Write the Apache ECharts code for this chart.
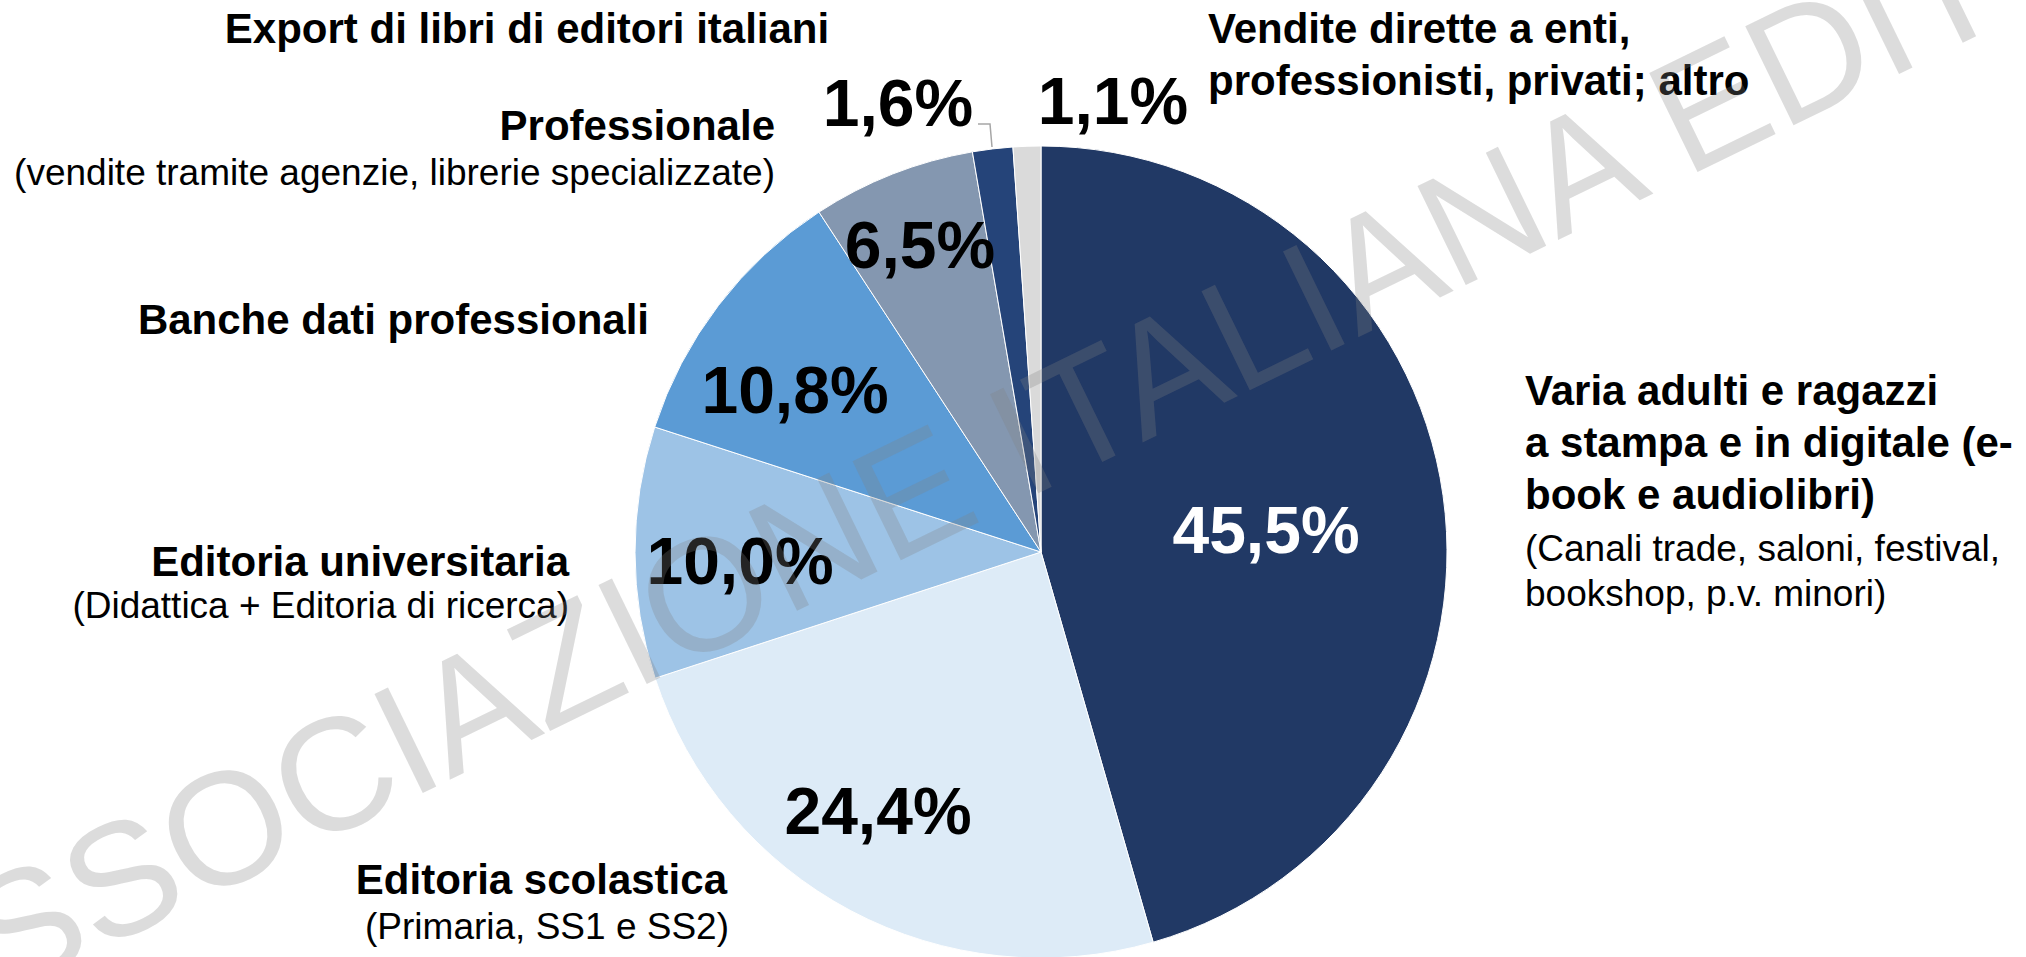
<!DOCTYPE html>
<html>
<head>
<meta charset="utf-8">
<script src="https://cdn.jsdelivr.net/npm/echarts@6/dist/echarts.min.js"></script>
<style>
  html, body { margin: 0; padding: 0; background: #fff; }
  #main { width: 2026px; height: 957px; }
</style>
</head>
<body>
<div id="main"></div>
<script>
// quote per canale (%), in senso orario dalle ore 12
var categorie = [
    'Varia adulti e ragazzi',
    'Editoria scolastica',
    'Editoria universitaria',
    'Banche dati professionali',
    'Professionale',
    'Export di libri di editori italiani',
    'Vendite dirette a enti, professionisti, privati; altro'
]
var valori = [45.5, 24.4, 10.0, 10.8, 6.5, 1.6, 1.1]
var colori = ['#213965', '#ddebf7', '#9dc3e6', '#5b9bd5', '#8497b0', '#254479', '#dadada']

const FONT = '"Liberation Sans", Arial, sans-serif'

// posizioni delle etichette percentuali (px)
var posPerc = [[1266, 530], [878, 811], [740, 561], [795, 390], [920, 245], [898, 103], [1113, 101]]

const myChart = echarts.init(document.getElementById('main'), null, {renderer: 'svg'})

function fmt(v) {
    return v.toFixed(1).replace('.', ',') + '%'
}

let dati = []
for (let i = 0; i < valori.length; i++) {
    dati.push({
        name: categorie[i],
        value: valori[i],
        itemStyle: {color: colori[i]},
        label: {
            color: i === 0 ? '#fff' : '#000',
            position: i === 5 ? 'outside' : 'inside'
        },
        labelLine: {show: i === 5}
    })
}

// testi delle categorie
function testo(x, y, t, bold, align, lh) {
    return {
        type: 'text',
        x: x,
        y: y,
        style: {
            text: t,
            font: (bold ? 'bold 42px ' : '37px ') + FONT,
            fill: '#000',
            align: align,
            verticalAlign: 'middle',
            lineHeight: lh || 52
        }
    }
}

const option = {
    backgroundColor: '#fff',
    animation: false,
    series: [
        {
            type: 'pie',
            center: [1041, 552],
            radius: 406,
            startAngle: 90,
            clockwise: true,
            avoidLabelOverlap: false,
            silent: true,
            itemStyle: {borderColor: '#fff', borderWidth: 1},
            label: {
                show: true,
                formatter: p => fmt(p.value),
                fontFamily: FONT,
                fontWeight: 'bold',
                fontSize: 66
            },
            labelLine: {
                lineStyle: {color: '#a6a6a6', width: 1.5}
            },
            labelLayout: function (p) {
                const pos = posPerc[p.dataIndex]
                let r = {x: pos[0], y: pos[1], align: 'center', verticalAlign: 'middle'}
                if (p.dataIndex === 5) {
                    r.labelLinePoints = [[992, 147], [990, 124], [978, 124]]
                }
                return r
            },
            data: dati
        }
    ],
    graphic: [
        testo(527, 28, categorie[5], true, 'center'),
        testo(775, 125, categorie[4], true, 'right'),
        testo(775, 172, '(vendite tramite agenzie, librerie specializzate)', false, 'right'),
        testo(649, 319, categorie[3], true, 'right'),
        testo(569, 561, categorie[2], true, 'right'),
        testo(569, 605, '(Didattica + Editoria di ricerca)', false, 'right'),
        testo(727, 879, categorie[1], true, 'right'),
        testo(729, 926, '(Primaria, SS1 e SS2)', false, 'right'),
        testo(1525, 442, 'Varia adulti e ragazzi\na stampa e in digitale (e-\nbook e audiolibri)', true, 'left', 52),
        testo(1525, 571, '(Canali trade, saloni, festival,\nbookshop, p.v. minori)', false, 'left', 45),
        testo(1208, 54, 'Vendite dirette a enti,\nprofessionisti, privati; altro', true, 'left', 52),
        {
            // filigrana
            type: 'text',
            x: 1062,
            y: 420,
            rotation: 26 * Math.PI / 180,
            z: 100,
            silent: true,
            style: {
                text: 'ASSOCIAZIONE ITALIANA EDITORI',
                font: '160px ' + FONT,
                fill: 'rgba(130,130,130,0.28)',
                align: 'center',
                verticalAlign: 'middle'
            }
        }
    ]
}

myChart.setOption(option)
window.addEventListener('resize', () => {
    myChart.resize()
})
</script>
</body>
</html>
